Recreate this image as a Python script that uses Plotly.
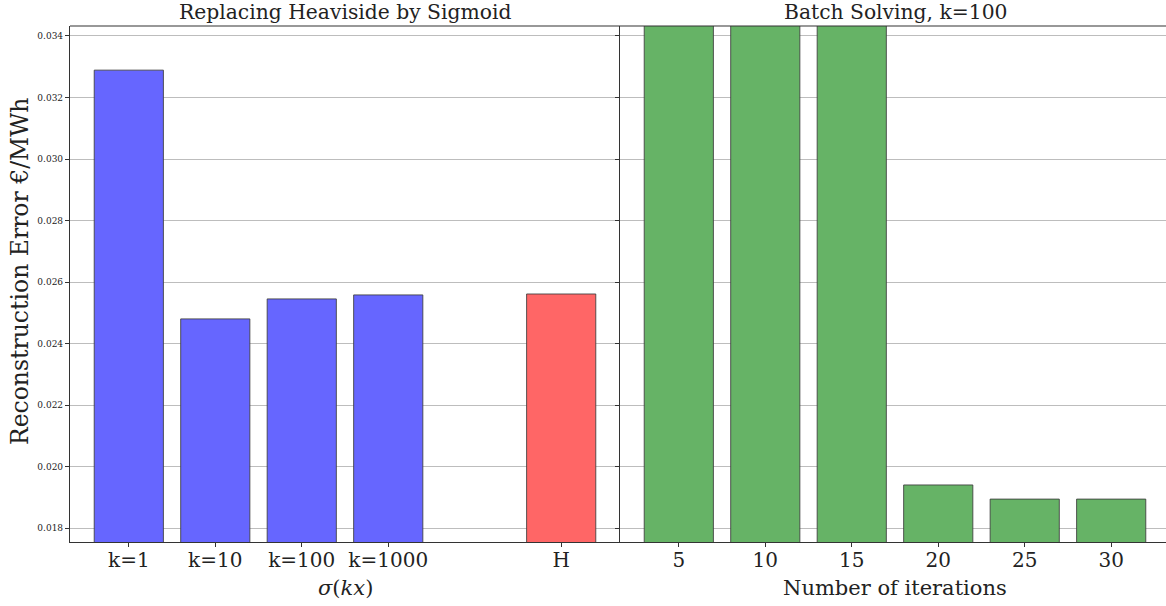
import plotly.graph_objects as go
from plotly.subplots import make_subplots

# left panel: sigmoid approximations vs Heaviside
sigmoid_labels = ["k=1", "k=10", "k=100", "k=1000"]
sigmoid_errors = [0.03289, 0.02480, 0.02545, 0.02558]
heaviside_label = ["H"]
heaviside_error = [0.02561]
left_order = ["k=1", "k=10", "k=100", "k=1000", "gap", "H"]

# right panel: batch solving, k=100
iterations = ["5", "10", "15", "20", "25", "30"]
batch_errors = [0.0450, 0.0450, 0.0450, 0.01940, 0.01894, 0.01894]

y_ticks = [0.018, 0.020, 0.022, 0.024, 0.026, 0.028, 0.030, 0.032, 0.034]

FONT = "DejaVu Serif"
EDGE = "rgba(60,60,60,0.85)"
TXT = "#222"

fig = make_subplots(rows=1, cols=2, shared_yaxes=True, horizontal_spacing=0)

fig.add_trace(go.Bar(
    x=sigmoid_labels, y=sigmoid_errors, width=0.8,
    marker=dict(color="#6666ff", line=dict(color=EDGE, width=1)),
    showlegend=False,
), row=1, col=1)
fig.add_trace(go.Bar(
    x=heaviside_label, y=heaviside_error, width=0.8,
    marker=dict(color="#ff6666", line=dict(color=EDGE, width=1)),
    showlegend=False,
), row=1, col=1)
fig.add_trace(go.Bar(
    x=iterations, y=batch_errors, width=0.8,
    marker=dict(color="#66b366", line=dict(color=EDGE, width=1)),
    showlegend=False,
), row=1, col=2)

axis_common = dict(
    showline=True, linecolor="#333", linewidth=1.2, mirror=False,
    ticks="outside", ticklen=4, tickcolor="#333", ticklabelstandoff=-4,
    tickfont=dict(family=FONT, size=20, color=TXT),
    showgrid=False, zeroline=False, automargin=False,
)

fig.update_xaxes(
    **axis_common, type="category", categoryorder="array",
    categoryarray=left_order, tickvals=sigmoid_labels + heaviside_label,
    range=[-0.68, 5.68], domain=[0, 0.5],
    row=1, col=1,
)
fig.update_xaxes(
    **axis_common, type="category", range=[-0.68, 5.68], domain=[0.5, 1.0],
    row=1, col=2,
)

fig.update_yaxes(
    showline=True, linecolor="#333", linewidth=1.2,
    ticks="outside", ticklen=4, tickcolor="#333",
    tickvals=y_ticks, tickformat=".3f",
    tickfont=dict(family=FONT, size=9, color=TXT),
    range=[0.017545, 0.034325], automargin=False,
    showgrid=True, gridcolor="#bdbdbd", gridwidth=1, zeroline=False,
)
fig.update_yaxes(showticklabels=False, row=1, col=2)

# top spine
fig.add_shape(type="line", xref="paper", yref="paper", x0=0, x1=1, y0=1, y1=1,
              line=dict(color="#333", width=1.2))

# panel titles
fig.add_annotation(text="Replacing Heaviside by Sigmoid", xref="paper", yref="paper",
                   x=0.25, y=1.0, xanchor="center", yanchor="bottom", showarrow=False,
                   font=dict(family=FONT, size=20.3, color=TXT))
fig.add_annotation(text="Batch Solving, k=100", xref="paper", yref="paper",
                   x=0.75, y=1.0, xanchor="center", yanchor="bottom", showarrow=False,
                   font=dict(family=FONT, size=20.3, color=TXT))

# axis titles
fig.add_annotation(text="Reconstruction Error €/MWh", xref="paper", yref="paper",
                   x=-0.0455, y=0.525, xanchor="center", yanchor="middle", textangle=-90,
                   showarrow=False, font=dict(family=FONT, size=23.5, color=TXT))
fig.add_annotation(text="<i>σ</i>(<i>kx</i>)", xref="paper", yref="paper",
                   x=0.25, y=-0.089, xanchor="center", yanchor="middle", showarrow=False,
                   font=dict(family=FONT, size=21, color=TXT))
fig.add_annotation(text="Number of iterations", xref="paper", yref="paper",
                   x=0.75, y=-0.089, xanchor="center", yanchor="middle", showarrow=False,
                   font=dict(family=FONT, size=21, color=TXT))

fig.update_layout(
    width=1170, height=606,
    margin=dict(l=70, r=0, t=26, b=64),
    plot_bgcolor="white", paper_bgcolor="white",
    bargap=0.2,
)

# drop the default page margin so the figure sits at the window's corner
fig.write_html("out.html", config={"displayModeBar": False},
               post_script="document.body.style.margin='0';document.body.style.overflow='hidden';")
